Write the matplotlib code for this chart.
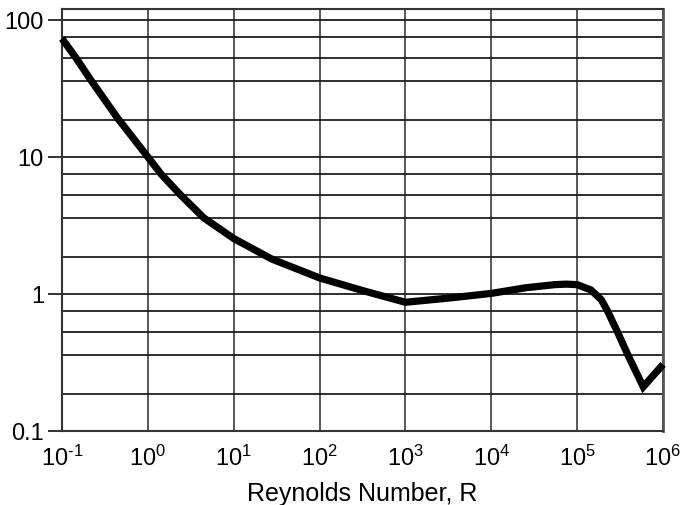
import numpy as np
import matplotlib.pyplot as plt
from matplotlib.ticker import FixedLocator, FixedFormatter, NullFormatter

plt.rcParams['font.family'] = ['Liberation Sans', 'DejaVu Sans']
plt.rcParams['mathtext.fontset'] = 'custom'
plt.rcParams['mathtext.rm'] = 'Liberation Sans'
plt.rcParams['mathtext.it'] = 'Liberation Sans'

# drag curve
reynolds = [0.1, 0.1466, 0.2148, 0.4416, 1, 1.426, 2.427, 4.467, 10, 27.7, 100,
            316, 1000, 3162, 1e4, 25119, 54954, 74131, 1e5, 144544, 190546,
            223872, 298538, 389045, 588844, 1e6]
drag = [73.1, 52.5, 36.7, 19.3, 10, 7.5, 5.25, 3.6, 2.54, 1.80, 1.31,
        1.06, 0.87, 0.933, 1.01, 1.11, 1.17, 1.18, 1.17, 1.07, 0.91,
        0.76, 0.52, 0.36, 0.21, 0.306]

x_ticks = [1e-1, 1e0, 1e1, 1e2, 1e3, 1e4, 1e5, 1e6]
x_labels = ['$10^{\u20101}$', '$10^{0}$', '$10^{1}$', '$10^{2}$', '$10^{3}$',
            '$10^{4}$', '$10^{5}$', '$10^{6}$']
y_ticks = [0.1, 1, 10, 100]
y_labels = ['0.1', '1', '10', '100']
# horizontal rulings inside each decade
minor_steps = [1.85, 3.6, 5.25, 7.5]

fig = plt.figure(figsize=(6.81, 5.06), dpi=100)
ax = fig.add_axes([62 / 681, 74 / 506, 601 / 681, 422 / 506])

ax.set_xscale('log')
ax.set_yscale('log')
ax.set_xlim(1e-1, 1e6)
ax.set_ylim(0.1, 10 ** 2.08)

minor_y = [s * d for d in [0.1, 1, 10] for s in minor_steps]
ax.xaxis.set_major_locator(FixedLocator(x_ticks))
ax.xaxis.set_major_formatter(FixedFormatter(x_labels))
ax.xaxis.set_minor_locator(FixedLocator([]))
ax.yaxis.set_major_locator(FixedLocator(y_ticks))
ax.yaxis.set_major_formatter(FixedFormatter(y_labels))
ax.yaxis.set_minor_locator(FixedLocator(minor_y))
ax.yaxis.set_minor_formatter(NullFormatter())

ax.grid(True, axis='x', which='major', color='#4a4a4a', lw=1.3)
ax.grid(True, axis='y', which='both', color='#1e1e1e', lw=1.3)

ax.tick_params(axis='x', which='both', length=0, pad=10, labelsize=17)
ax.tick_params(axis='y', which='major', length=10, width=1.3, color='#222222',
               pad=3, labelsize=17)
ax.tick_params(axis='y', which='minor', length=0)

for side in ['left', 'bottom', 'top']:
    ax.spines[side].set_color('#333333')
    ax.spines[side].set_linewidth(1.5)
ax.spines['right'].set_color('#555555')
ax.spines['right'].set_linewidth(2)

ax.plot(reynolds, drag, color='black', lw=5.2, solid_joinstyle='miter',
        solid_capstyle='butt', clip_on=False, zorder=5)

ax.set_xlabel('Reynolds Number, R', fontsize=18, labelpad=7.5)

fig.savefig('out.png', dpi=100)
